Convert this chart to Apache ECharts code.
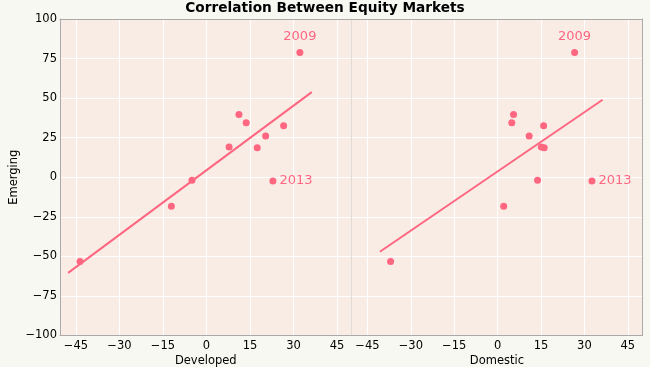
<!DOCTYPE html>
<html>
<head>
<meta charset="utf-8">
<script src="https://cdn.jsdelivr.net/npm/echarts@6/dist/echarts.min.js"></script>
<style>
html,body{margin:0;padding:0;background:#f8f8f3;}
#c{width:650px;height:367px;}
</style>
</head>
<body>
<div id="c"></div>
<script>
const years      = ['2004','2005','2006','2007','2008','2009','2010','2011','2012','2013','2014'];
const emerging   = [26.1, 34.5, 32.6, 39.7, -53.2, 78.9, 19.1, -18.3, 18.7, -2.3, -1.9];
const developed  = [20.4, 13.7, 26.6, 11.2, -43.6, 32.2, 7.8, -12.1, 17.5, 22.9, -5.0];
const domestic   = [10.9, 4.9, 15.9, 5.5, -37.0, 26.6, 15.1, 2.1, 16.1, 32.6, 13.8];
const labeledYears = ['2009','2013'];
// fitted line endpoints [x, y]
const devFitX = [-47.7, 36.3];
const devFitY = [-60.4, 53.8];
const domFitX = [-40.7, 36.3];
const domFitY = [-47.1, 49.0];
const xTicks = [-45, -30, -15, 0, 15, 30, 45];
const yMin = -100, yMax = 100, yStep = 25;
const xMin = -50.5, xMax = 50;

const pink = '#ff6680';
const font = 'DejaVu Sans';
const fmt = v => String(v).replace('-', '\u2212');

function pts(xs) {
  return xs.map((x, i) => {
    const item = { value: [x, emerging[i]], name: years[i] };
    if (labeledYears.includes(years[i])) {
      item.label = {
        show: true, formatter: years[i],
        position: years[i] === '2009' ? 'top' : 'right',
        distance: years[i] === '2009' ? 6 : 3,
        color: pink, fontSize: 13, fontFamily: font
      };
    }
    return item;
  });
}
function line(xs, ys) { return xs.map((x, i) => [x, ys[i]]); }

function mainX(gi, name) {
  return {
    type: 'value', gridIndex: gi, min: xMin, max: xMax, position: 'bottom',
    name: name, nameLocation: 'middle', nameGap: 20, nameMoveOverlap: false,
    nameTextStyle: { color: '#000', fontSize: 11.5, fontFamily: font },
    axisLine: { show: true, onZero: false, lineStyle: { color: '#aaaaaa', width: 1 } },
    axisTick: { show: false, customValues: xTicks },
    axisLabel: { customValues: xTicks, formatter: fmt, color: '#000', fontSize: 11.5, fontFamily: font, margin: 5 },
    splitLine: { show: true, lineStyle: { color: '#ffffff', width: 1 } }
  };
}
function topX(gi) {
  return {
    type: 'value', gridIndex: gi, min: xMin, max: xMax, position: 'top',
    axisLine: { show: true, onZero: false, lineStyle: { color: '#aaaaaa', width: 1 } },
    axisTick: { show: false }, axisLabel: { show: false }, splitLine: { show: false }
  };
}

const option = {
  backgroundColor: '#f8f8f3',
  animation: false,
  title: {
    text: 'Correlation Between Equity Markets', left: 'center', top: 0, padding: [1, 5],
    textStyle: { fontFamily: font, fontSize: 13.7, fontWeight: 'bold', color: '#000' }
  },
  grid: [
    { left: 60, top: 19, width: 291.5, height: 316.5, show: true, backgroundColor: '#f9ece5', borderWidth: 0, outerBoundsMode: 'none', containLabel: false },
    { left: 351.5, top: 19, width: 290.8, height: 316.5, show: true, backgroundColor: '#f9ece5', borderWidth: 0, outerBoundsMode: 'none', containLabel: false }
  ],
  xAxis: [ mainX(0, 'Developed'), mainX(1, 'Domestic'), topX(0), topX(1) ],
  yAxis: [
    {
      type: 'value', gridIndex: 0, min: yMin, max: yMax, interval: yStep,
      name: 'Emerging', nameLocation: 'middle', nameGap: 40, nameMoveOverlap: false,
      nameTextStyle: { color: '#000', fontSize: 11.5, fontFamily: font },
      axisLine: { show: true, onZero: false, lineStyle: { color: '#aaaaaa' } },
      axisTick: { show: false },
      axisLabel: { formatter: fmt, color: '#000', fontSize: 11.5, fontFamily: font, margin: 3 },
      splitLine: { show: true, lineStyle: { color: '#ffffff' } }
    },
    {
      type: 'value', gridIndex: 1, min: yMin, max: yMax, interval: yStep,
      axisLine: { show: true, onZero: false, lineStyle: { color: '#e2dcd8' } },
      axisTick: { show: false }, axisLabel: { show: false },
      splitLine: { show: true, lineStyle: { color: '#ffffff' } }
    },
    {
      type: 'value', gridIndex: 1, min: yMin, max: yMax, position: 'right',
      axisLine: { show: true, onZero: false, lineStyle: { color: '#aaaaaa' } },
      axisTick: { show: false }, axisLabel: { show: false }, splitLine: { show: false }
    }
  ],
  series: [
    { type: 'line', xAxisIndex: 0, yAxisIndex: 0, data: line(devFitX, devFitY), symbol: 'none',
      lineStyle: { color: pink, width: 2 }, silent: true },
    { type: 'line', xAxisIndex: 1, yAxisIndex: 1, data: line(domFitX, domFitY), symbol: 'none',
      lineStyle: { color: pink, width: 2 }, silent: true },
    { type: 'scatter', xAxisIndex: 0, yAxisIndex: 0, data: pts(developed), symbolSize: 7,
      itemStyle: { color: pink, opacity: 1 } },
    { type: 'scatter', xAxisIndex: 1, yAxisIndex: 1, data: pts(domestic), symbolSize: 7,
      itemStyle: { color: pink, opacity: 1 } }
  ]
};
echarts.init(document.getElementById('c')).setOption(option);
</script>
</body>
</html>
